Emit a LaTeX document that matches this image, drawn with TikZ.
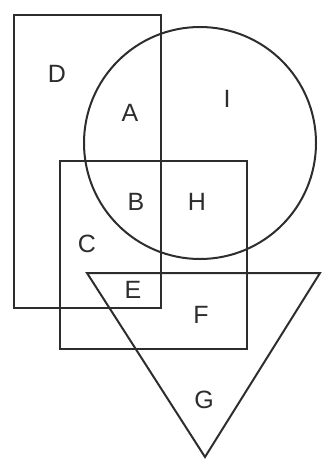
\documentclass[tikz,border=0pt]{standalone}
\usepackage{fontspec}
\setmainfont{Liberation Sans}
\usepackage{xcolor}
\definecolor{setink}{RGB}{45,45,45}
\tikzset{
  setline/.style={draw=setink,line width=2pt,line join=miter},
  setlabel/.style={font=\fontsize{25}{25}\selectfont,text=setink,inner sep=0pt}
}

\begin{document}
\begin{tikzpicture}[x=1pt,y=-1pt]
  \useasboundingbox (0,0) rectangle (322,460);

  \draw[setline] (14,15) rectangle (161,308);
  \draw[setline] (200,143) circle[radius=116];
  \draw[setline] (60,161) rectangle (247,349);
  \draw[setline] (87,273) -- (320,273) -- (205,457) -- cycle;

  \node[setlabel] (d) at (57,74) {D};
  \node[setlabel] (a) at (130,113) {A};
  \node[setlabel] (i) at (227,99) {I};
  \node[setlabel] (b) at (136,202) {B};
  \node[setlabel] (h) at (197,202) {H};
  \node[setlabel] (c) at (87,244) {C};
  \node[setlabel] (e) at (133,290) {E};
  \node[setlabel] (f) at (201,315) {F};
  \node[setlabel] (g) at (204,400) {G};
\end{tikzpicture}
\end{document}
